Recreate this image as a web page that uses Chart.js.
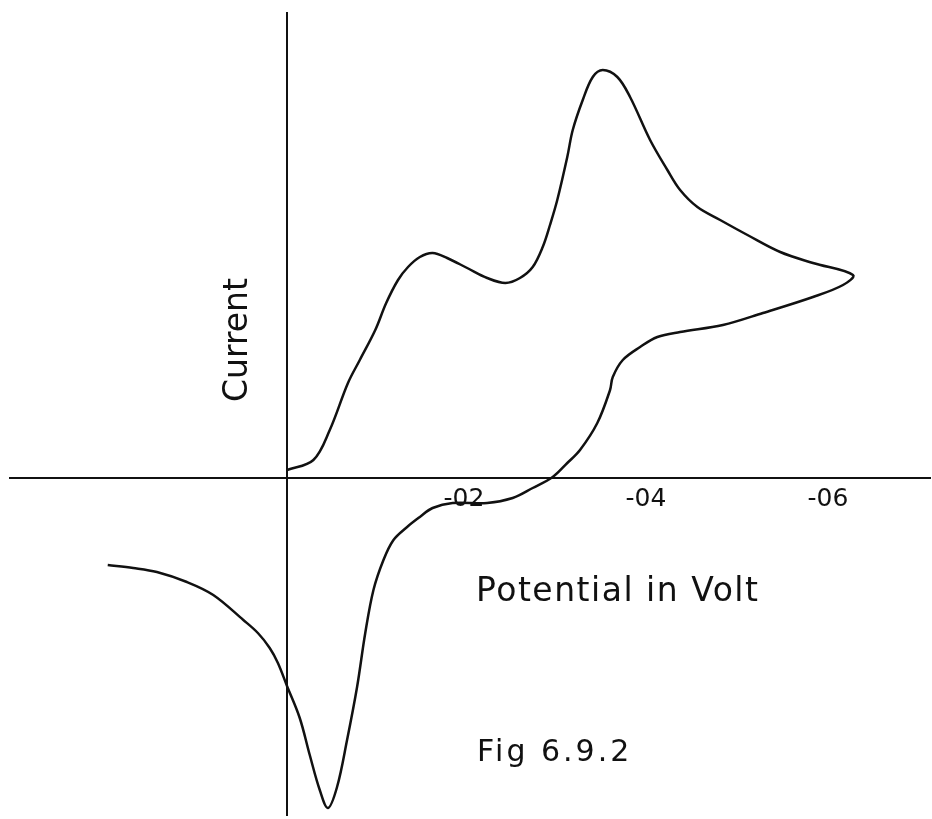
<!DOCTYPE html>
<html>
<head>
<meta charset="utf-8">
<script src="https://cdn.jsdelivr.net/npm/chart.js@4/dist/chart.umd.min.js"></script>
<style>
  html, body { margin: 0; padding: 0; background: #fff; }
  #wrap { width: 932px; height: 819px; position: relative; }
</style>
</head>
<body>
<div id="wrap"><canvas id="cvChart"></canvas></div>
<script>
// potential (V) and current (arbitrary units)
const potential = [
    0.000, -0.029, -0.047, -0.067, -0.080, -0.097, -0.109, -0.122, -0.133, -0.146,
    -0.160, -0.176, -0.198, -0.220, -0.240, -0.256, -0.270, -0.281, -0.289, -0.297,
    -0.308, -0.314, -0.325, -0.336, -0.347, -0.363, -0.377, -0.399, -0.418, -0.432,
    -0.451, -0.476, -0.506, -0.542, -0.578, -0.622, -0.611, -0.578, -0.523, -0.479,
    -0.432, -0.407, -0.388, -0.369, -0.358, -0.355, -0.341, -0.322, -0.308, -0.292,
    -0.270, -0.248, -0.220, -0.182, -0.160, -0.146, -0.132, -0.117, -0.106, -0.095,
    -0.086, -0.077, -0.066, -0.055, -0.045, -0.036, -0.025, -0.014, 0.000, 0.010,
    0.019, 0.032, 0.048, 0.081, 0.110, 0.143, 0.169, 0.197
];
const current = [
    0.8, 1.8, 4.8, 9.5, 11.8, 14.8, 17.5, 19.8, 21.1, 22.1,
    22.5, 22.0, 21.0, 20.0, 19.5, 20.0, 21.1, 23.1, 25.3, 27.8,
    32.1, 34.8, 37.8, 40.1, 40.8, 40.1, 38.1, 33.8, 30.8, 28.8,
    27.1, 25.8, 24.3, 22.6, 21.5, 20.3, 19.3, 18.1, 16.5, 15.3,
    14.6, 14.1, 13.1, 11.8, 10.1, 8.8, 5.5, 2.8, 1.5, 0.1,
    -1.0, -2.0, -2.5, -2.5, -3.0, -3.9, -4.9, -6.2, -8.2, -11.2,
    -15.5, -20.9, -26.2, -30.9, -33.0, -31.2, -27.7, -24.0, -20.8, -18.5,
    -17.0, -15.5, -14.2, -11.7, -10.4, -9.4, -9.0, -8.7
];
const tickValues = [-0.2, -0.4, -0.6];
const tickLabels = ['-02', '-04', '-06'];

const ink = '#111111';

// 軸ラベルと図番号を描く
const textPlugin = {
    id: 'figText',
    afterDraw(chart) {
        const ctx = chart.ctx;
        ctx.save();
        ctx.fillStyle = ink;
        ctx.textBaseline = 'alphabetic';

        ctx.font = '33px "DejaVu Sans"';
        ctx.textAlign = 'left';
        ctx.letterSpacing = '1.5px';
        ctx.fillText('Potential in Volt', 476, 601);

        ctx.font = '30px "DejaVu Sans"';
        ctx.letterSpacing = '3px';
        ctx.fillText('Fig 6.9.2', 477, 761);
        ctx.letterSpacing = '0px';

        ctx.translate(247, 340);
        ctx.rotate(-Math.PI / 2);
        ctx.textAlign = 'center';
        ctx.font = '33px "DejaVu Sans"';
        ctx.fillText('Current', 0, 0);
        ctx.restore();
    }
};

const points = potential.map((v, i) => ({ x: v, y: current[i] }));

new Chart(document.getElementById('cvChart'), {
    type: 'scatter',
    data: {
        datasets: [{
            data: points,
            showLine: true,
            borderColor: ink,
            borderWidth: 2.5,
            pointRadius: 0,
            tension: 0.35,
            fill: false
        }]
    },
    options: {
        responsive: true,
        maintainAspectRatio: false,
        animation: false,
        layout: { padding: { left: 10, right: 2, top: 13, bottom: 4 } },
        plugins: {
            legend: { display: false },
            tooltip: { enabled: false }
        },
        scales: {
            x: {
                type: 'linear',
                reverse: true,
                min: -0.7066,
                max: 0.3044,
                position: { y: 0 },
                grid: { display: false, drawTicks: false },
                border: { display: true, color: ink, width: 2 },
                afterBuildTicks(scale) {
                    scale.ticks = tickValues.map(v => ({ value: v }));
                },
                ticks: {
                    padding: 6,
                    labelOffset: -5,
                    color: ink,
                    font: { family: 'DejaVu Sans', size: 25 },
                    callback(value) {
                        const i = tickValues.findIndex(t => Math.abs(t - value) < 1e-6);
                        return i >= 0 ? tickLabels[i] : '';
                    }
                }
            },
            y: {
                type: 'linear',
                min: -33.7,
                max: 46.5,
                position: { x: 0 },
                grid: { display: false, drawTicks: false },
                border: { display: true, color: ink, width: 2 },
                ticks: { display: false }
            }
        }
    },
    plugins: [textPlugin]
});
</script>
</body>
</html>
